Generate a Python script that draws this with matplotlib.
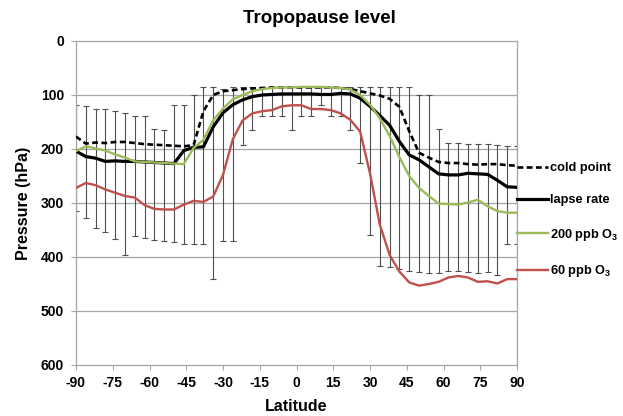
import matplotlib
matplotlib.use("Agg")
import matplotlib.pyplot as plt
import numpy as np

plt.rcParams['font.family'] = ['Liberation Sans', 'DejaVu Sans']
plt.rcParams['font.weight'] = 'bold'
plt.rcParams['axes.unicode_minus'] = False
plt.rcParams['mathtext.fontset'] = 'custom'
plt.rcParams['mathtext.bf'] = 'Liberation Sans:bold'
plt.rcParams['mathtext.default'] = 'bf'

# zonal mean tropopause pressure (hPa) on a 4-degree latitude grid
lat = [-90, -86, -82, -78, -74, -70, -66, -62, -58, -54, -50, -46, -42, -38, -34, -30,
       -26, -22, -18, -14, -10, -6, -2, 2, 6, 10, 14, 18, 22, 26, 30, 34,
       38, 42, 46, 50, 54, 58, 62, 66, 70, 74, 78, 82, 86, 90]

cold_point = [177, 190, 188, 189, 187, 187, 189, 191, 192, 193, 194, 195, 193, 130, 100, 93,
              91, 89, 88, 87, 86, 86, 86, 86, 86, 86, 86, 87, 89, 93, 97, 101,
              107, 122, 167, 207, 216, 224, 226, 226, 228, 229, 228, 228, 230, 231]

lapse_rate = [204, 214, 217, 223, 222, 223, 223, 224, 225, 226, 227, 203, 197, 196, 159, 133,
              118, 109, 103, 100, 99, 98, 98, 98, 98, 99, 99, 97, 98, 106, 121, 138,
              156, 186, 211, 220, 233, 246, 248, 248, 245, 246, 247, 258, 270, 271]

o3_200 = [204, 195, 199, 203, 210, 216, 223, 224, 225, 226, 227, 228, 198, 183, 147, 125,
          108, 100, 93, 89, 87, 86, 86, 85, 85, 85, 86, 87, 90, 100, 118, 143,
          176, 215, 250, 272, 287, 301, 302, 303, 299, 294, 306, 315, 318, 318]

o3_60 = [272, 263, 267, 275, 281, 287, 290, 304, 311, 312, 312, 303, 296, 298, 288, 248,
         182, 147, 134, 130, 128, 121, 119, 119, 126, 126, 128, 134, 146, 168, 245, 340,
         396, 427, 447, 453, 450, 446, 438, 435, 438, 446, 445, 449, 441, 441]

# spread of the tropopause pressure (upper and lower end of each bar)
bar_top = [118, 120, 125, 126, 129, 133, 138, 139, 163, 165, 119, 119, 100, 86, 86, 88,
           86, 85, 85, 85, 85, 85, 85, 85, 85, 85, 85, 85, 85, 85, 86, 86,
           86, 86, 86, 100, 100, 163, 189, 189, 190, 190, 191, 193, 195, 195]
bar_bottom = [315, 327, 347, 353, 367, 396, 361, 365, 368, 370, 373, 375, 375, 376, 441, 371,
              370, 193, 164, 138, 138, 139, 164, 138, 138, 118, 138, 138, 164, 225, 359, 417,
              419, 423, 426, 427, 429, 430, 425, 425, 428, 429, 428, 434, 375, 376]

x_ticks = [-90, -75, -60, -45, -30, -15, 0, 15, 30, 45, 60, 75, 90]
y_ticks = [0, 100, 200, 300, 400, 500, 600]

fig = plt.figure(figsize=(6.23, 4.16), dpi=100)
ax = fig.add_axes([76 / 623, 1 - 365 / 416, 441 / 623, 324 / 416])

grey = '#a6a6a6'
for y in y_ticks[1:-1]:
    ax.axhline(y, color=grey, lw=0.9, zorder=0)

top = np.array(bar_top)
bottom = np.array(bar_bottom)
ax.errorbar(lat, top, yerr=[np.zeros_like(top), bottom - top], fmt='none',
            ecolor='#505050', elinewidth=0.8, capsize=2.2, capthick=0.8, zorder=1)

ax.plot(lat, cold_point, color='black', lw=1.9, ls=(0, (2.2, 1.3)), label='cold point', zorder=3)
ax.plot(lat, lapse_rate, color='black', lw=2.3, label='lapse rate', zorder=3)
ax.plot(lat, o3_200, color='#9bbb59', lw=1.7, label=r'200 ppb O$_3$', zorder=3)
ax.plot(lat, o3_60, color='#c0504d', lw=1.7, label=r'60 ppb O$_3$', zorder=3)

ax.set_xlim(-90, 90)
ax.set_ylim(600, 0)
ax.set_xticks(x_ticks)
ax.set_yticks(y_ticks)
ax.tick_params(labelsize=10, length=3.6, width=0.8, color=grey)
ax.tick_params(axis='y', pad=5)
ax.tick_params(axis='x', pad=4)
for s in ax.spines.values():
    s.set_color(grey)
    s.set_linewidth(0.9)

ax.set_xlabel('Latitude', fontsize=11.5, fontweight='bold', labelpad=6.5)
ax.set_ylabel('Pressure (hPa)', fontsize=11.5, fontweight='bold', labelpad=7)
fig.suptitle('Tropopause level', x=0.513, y=0.975, fontsize=13.5, fontweight='bold')

ax.legend(loc='upper left', bbox_to_anchor=(517 / 623, 1 - 162 / 416),
          bbox_transform=fig.transFigure, frameon=False, fontsize=9.2,
          handlelength=2.4, handletextpad=0.15, labelspacing=1.6,
          borderpad=0, borderaxespad=0)

fig.savefig('out.png', dpi=100)
